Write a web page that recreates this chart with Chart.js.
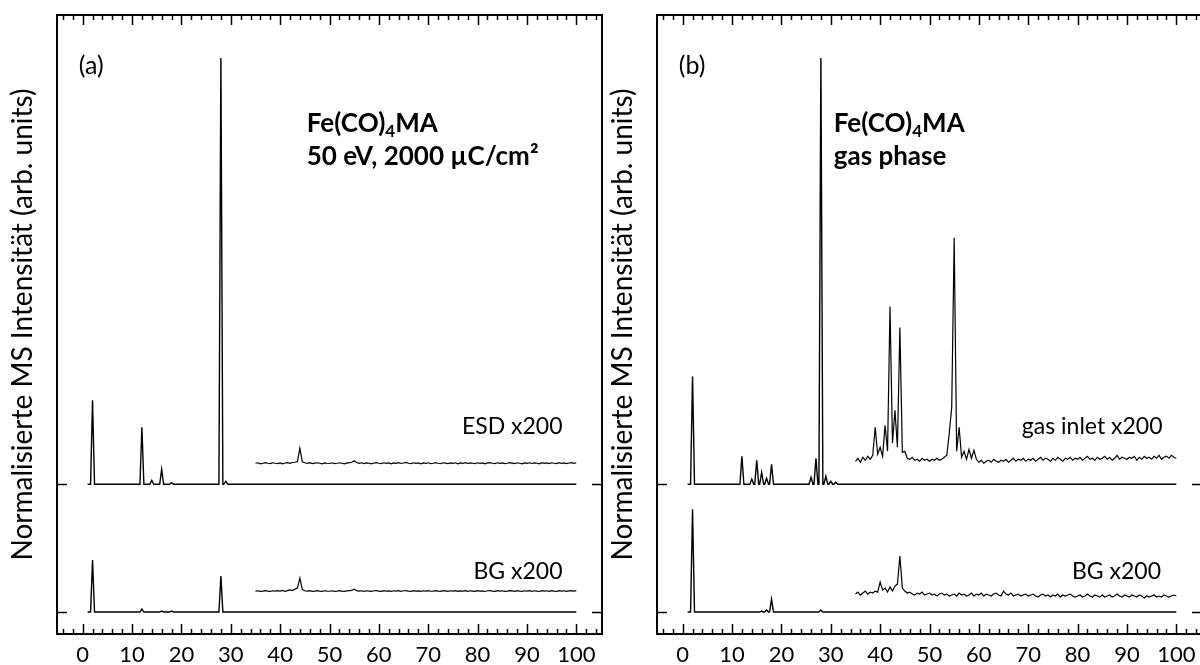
<!DOCTYPE html>
<html>
<head>
<meta charset="utf-8">
<script src="https://cdn.jsdelivr.net/npm/chart.js@4.4.1/dist/chart.umd.min.js"></script>
<style>
html, body { margin: 0; padding: 0; background: #fff; overflow: hidden; width: 1200px; height: 665px; }
canvas { position: absolute; top: 0; }
#chartA { left: 0; }
#chartB { left: 600px; }
</style>
</head>
<body>
<canvas id="chartA" width="610" height="700"></canvas>
<canvas id="chartB" width="610" height="700"></canvas>
<script>
// m/z axis
const mzTicks = [0, 10, 20, 30, 40, 50, 60, 70, 80, 90, 100];
const minorTicks = [-4, -2, 0, 2, 4, 6, 8, 10, 12, 14, 16, 18, 20, 22, 24, 26, 28, 30, 32, 34, 36, 38, 40, 42, 44, 46, 48, 50,
  52, 54, 56, 58, 60, 62, 64, 66, 68, 70, 72, 74, 76, 78, 80, 82, 84, 86, 88, 90, 92, 94, 96, 98, 100, 102, 104];

// full-scale spectra: [m/z, intensity]
const esdPeaks = [[2, 84], [12, 57], [14, 4], [16, 15], [18, 1.5], [28, 427], [29, 3]];
const bgPeaksA = [[2, 52], [12, 3], [16, 1], [18, 1], [28, 36]];
const gasPeaks = [[2, 108], [12, 28], [14, 5], [15, 24], [16, 12], [17, 6], [18, 20], [26, 7], [27, 26], [28, 427], [29, 8], [30, 3], [31, 2]];
const bgPeaksB = [[2, 103], [16, 1], [17, 2], [18, 13], [28, 2]];

// x200 traces, m/z 35 ... 100 in steps of 0.5
const zoomStart = 35, zoomStep = 0.5;
const esdX200 = [0, 0.5, -0.5, 0, 0.6, 0, -0.4, 0.5, 0, -0.3,
  0.4, -0.5, 0.3, 0.6, 0, 0.8, 1, 1.6, 15, 1.5,
  0.5, 0, 0.6, -0.4, 0.2, 0.5, 0, -0.5, 0.4, 0,
  -0.2, 0.5, -0.4, 0, 0.5, 0, -0.5, 0.2, 0.6, 1,
  2.5, 0.8, 0, 0.5, -0.3, 0.4, 0, -0.5, 0.3, 0.6,
  0, -0.4, 0.5, 0, 0.3, -0.5, 0.4, 0, 0.6, -0.2,
  0.3, 0.8, 0, -0.4, 0.5, 0, 0.3, -0.5, 0.4, 0,
  0.5, -0.3, 0, 0.6, 0, -0.4, 0.5, 0.2, -0.3, 0.4,
  0, 0.5, -0.5, 0.3, 0, 0.6, -0.2, 0.4, 0, -0.4,
  0.5, 0, 0.3, -0.5, 0.4, 0.7, 0, -0.3, 0.5, 0,
  0.4, -0.4, 0, 0.6, 0.2, -0.3, 0.5, 0, -0.5, 0.4,
  0, 0.5, -0.2, 0.3, 0, -0.5, 0.6, 0, 0.3, -0.4,
  0.5, 0, -0.3, 0.6, 0, 0.4, -0.4, 0.3, 0.7, 0, 0.5];
const bgX200A = [0, 0.3, -0.3, 0, 0.4, 0, -0.3, 0.3, 0, 0.5,
  0, 0.6, -0.2, 0.5, 1.2, 0.5, 2, 3, 13, 1.5,
  0.3, 0, 0.4, -0.3, 0, 0.4, 0, -0.3, 0.3, 0,
  -0.2, 0.3, -0.3, 0, 0.4, 0, -0.3, 0.2, 0.4, 0.6,
  1.8, 0.5, 0, 0.3, -0.3, 0.3, 0, -0.3, 0.3, 0.4,
  0, -0.3, 0.4, 0, 0.2, -0.3, 0.3, 0, 0.4, -0.2,
  0.3, 0.5, 0, -0.3, 0.4, 0, 0.2, -0.3, 0.3, 0,
  0.4, -0.2, 0, 0.4, 0, -0.3, 0.4, 0.2, -0.3, 0.3,
  0, 0.4, -0.3, 0.2, 0, 0.5, -0.2, 0.3, 0, -0.3,
  0.4, 0, 0.2, -0.4, 0.3, 0.5, 0, -0.3, 0.4, 0,
  0.3, -0.3, 0, 0.4, 0.2, -0.3, 0.4, 0, -0.3, 0.3,
  0, 0.4, -0.2, 0.3, 0, -0.4, 0.4, 0, 0.3, -0.3,
  0.4, 0, -0.3, 0.5, 0, 0.3, -0.3, 0.2, 0.5, 0, 0.4];
const gasX200 = [0, 3, -1, 4, 1, 5, 2, 6,
  34, 7, 14, 5, 36, 10, 155, 18, 51, 14, 134, 9, 10,
  3, 2, 4, 1, 2, 0, 3, 1, 2,
  0, 2, 1, 3, 1, 2, 4, 6,
  28, 54, 224, 10, 34, 4, 10, 2, 12, 3, 11, 2,
  -1, 1, -2, 0, 1, -1, 2, 0, -1, 1,
  0, 2, -1, 1, 3, 0, 2, 1, 3, 0,
  2, 1, 3, 0, 2, 4, 1, 3, 2, 0,
  3, 1, 4, 2, 0, 3, 2, 4, 1, 3,
  2, 4, 1, 3, 5, 2, 3, 1, 4, 2,
  3, 5, 2, 4, 1, 3, 6, 2, 4, 3,
  2, 4, 3, 5, 1, 4, 2, 5, 3, 4,
  2, 5, 3, 6, 2, 4, 5, 3, 6, 4, 3];
const bgX200B = [0, 2, -1, 1, 3, 0, 2, 1, 3, 2,
  12, 4, 6, 2, 7, 3, 8, 10, 38, 6,
  3, 1, 2, 0, -1, 1, 0, 2, -1, 0,
  1, -1, 0, -2, 0, 1, -1, 0, -2, -1,
  0, -2, 1, -1, 0, -2, -1, 1, -2, 0,
  -1, 1, -2, 0, -1, -2, 0, 1, -1, -2,
  3, 0, -1, 1, -2, -1, 0, -2, -1, 0,
  -2, -1, 0, -2, -3, -1, 0, -2, -1, -3,
  -1, -2, 0, -3, -1, -2, -1, 0, -2, -3,
  -2, -1, -3, -2, 0, -2, -3, -1, -2, -3,
  -1, -3, -2, -1, -3, -2, 0, -2, -3, -1,
  -2, -3, -1, -2, -3, -1, -2, -4, -2, -3,
  -2, -1, -3, -2, -3, -1, -2, -3, -2, -1, -2];

// vertical offsets of the stacked traces
const sampleBase = 128, bgBase = 0;
const esdZoomBase = 149, bgZoomBaseA = 21, gasZoomBase = 151, bgZoomBaseB = 18;
const baselines = [bgBase, sampleBase];

const yTitle = 'Normalisierte MS Intensität (arb. units)';
const FONT = 'Lato';

function mainTrace(peaks, base) {
  const pts = [{x: 1, y: base}];
  peaks.forEach(([m, h]) => {
    pts.push({x: m - 0.4, y: base}, {x: m, y: base + h}, {x: m + 0.4, y: base});
  });
  pts.push({x: 100, y: base});
  return pts;
}
function zoomTrace(vals, base) {
  return vals.map((v, i) => ({x: zoomStart + i * zoomStep, y: base + v}));
}
function ds(data, w) {
  return {data, borderColor: '#000', borderWidth: w, pointRadius: 0, tension: 0, fill: false};
}

function drawRich(ctx, parts, x, y) {
  let cx = x;
  parts.forEach(p => {
    ctx.font = p.sub ? 'bold 17px ' + FONT : 'bold 26px ' + FONT;
    ctx.fillText(p.t, cx, p.sub ? y + 5 : y);
    cx += ctx.measureText(p.t).width;
  });
}

const framePlugin = {
  id: 'frame',
  afterDraw(chart, args, opts) {
    const {ctx, chartArea: a, scales: {x, y}} = chart;
    ctx.save();
    ctx.strokeStyle = '#000';
    ctx.lineWidth = 2;
    ctx.strokeRect(a.left, a.top, a.right - a.left, a.bottom - a.top);
    ctx.lineWidth = 1.5;
    ctx.beginPath();
    minorTicks.forEach(v => {
      const px = Math.round(x.getPixelForValue(v)) + 0.5;
      const len = v % 10 === 0 ? 10 : 5;
      ctx.moveTo(px, a.bottom); ctx.lineTo(px, a.bottom - len);
      ctx.moveTo(px, a.top); ctx.lineTo(px, a.top + len);
    });
    baselines.forEach(b => {
      const py = Math.round(y.getPixelForValue(b)) + 0.5;
      ctx.moveTo(a.left, py); ctx.lineTo(a.left + 10, py);
      ctx.moveTo(a.right, py); ctx.lineTo(a.right - 10, py);
    });
    ctx.stroke();

    ctx.fillStyle = '#000';
    ctx.textBaseline = 'middle';
    ctx.font = '25px ' + FONT;
    ctx.textAlign = 'left';
    ctx.fillText(opts.tag, x.getPixelForValue(-0.8), y.getPixelForValue(547));
    ctx.font = '23px ' + FONT;
    ctx.textAlign = 'right';
    opts.labels.forEach(l => ctx.fillText(l.text, x.getPixelForValue(l.x), y.getPixelForValue(l.y)));
    ctx.textAlign = 'left';
    ctx.textBaseline = 'alphabetic';
    drawRich(ctx, opts.title[0], x.getPixelForValue(opts.titleX), y.getPixelForValue(481));
    drawRich(ctx, opts.title[1], x.getPixelForValue(opts.titleX), y.getPixelForValue(448));
    ctx.restore();
  }
};

function makeChart(id, datasets, deco) {
  return new Chart(document.getElementById(id), {
    type: 'line',
    data: {datasets},
    options: {
      responsive: false,
      animation: false,
      layout: {padding: {left: 2, right: 8, top: 15, bottom: 24}},
      plugins: {legend: {display: false}, tooltip: {enabled: false}, frame: deco},
      scales: {
        x: {
          type: 'linear', min: -5.2, max: 105.2,
          grid: {display: false, drawTicks: false},
          border: {display: false},
          afterBuildTicks: s => { s.ticks = mzTicks.map(v => ({value: v})); },
          ticks: {font: {family: FONT, size: 22, lineHeight: 1}, color: '#000', padding: 10, maxRotation: 0, autoSkip: false}
        },
        y: {
          type: 'linear', min: -22, max: 598,
          grid: {display: false, drawTicks: false},
          border: {display: false},
          ticks: {display: false},
          title: {display: true, text: yTitle, color: '#000', font: {family: FONT, size: 28, lineHeight: 1.2}, padding: {top: 4, bottom: 17.4}}
        }
      }
    },
    plugins: [framePlugin]
  });
}

makeChart('chartA', [
  ds(mainTrace(esdPeaks, sampleBase), 1.4),
  ds(mainTrace(bgPeaksA, bgBase), 1.4),
  ds(zoomTrace(esdX200, esdZoomBase), 1.2),
  ds(zoomTrace(bgX200A, bgZoomBaseA), 1.2)
], {
  tag: '(a)',
  labels: [{text: 'ESD x200', x: 97.2, y: 186}, {text: 'BG x200', x: 97.2, y: 41}],
  titleX: 45.4,
  title: [[{t: 'Fe(CO)'}, {t: '4', sub: true}, {t: 'MA'}], [{t: '50 eV, 2000 µC/cm²'}]]
});

makeChart('chartB', [
  ds(mainTrace(gasPeaks, sampleBase), 1.4),
  ds(mainTrace(bgPeaksB, bgBase), 1.4),
  ds(zoomTrace(gasX200, gasZoomBase), 1.2),
  ds(zoomTrace(bgX200B, bgZoomBaseB), 1.2)
], {
  tag: '(b)',
  labels: [{text: 'gas inlet x200', x: 97.2, y: 186}, {text: 'BG x200', x: 96.9, y: 41}],
  titleX: 30.6,
  title: [[{t: 'Fe(CO)'}, {t: '4', sub: true}, {t: 'MA'}], [{t: 'gas phase'}]]
});
</script>
</body>
</html>
